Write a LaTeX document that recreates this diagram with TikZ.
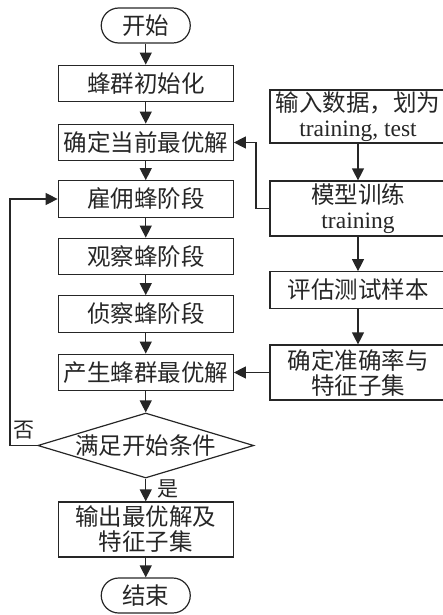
\documentclass[tikz,border=0pt]{standalone}
\usepackage{fontspec}
\setmainfont{Liberation Serif}
\newfontfamily\cjk{Noto Sans CJK SC}
\usetikzlibrary{arrows.meta,shapes.geometric}

\begin{document}
\begin{tikzpicture}[x=1pt,y=-1pt,
  every node/.style={font=\cjk\fontsize{23.5}{25}\selectfont, text=black!85},
  box/.style={draw=black!85, line width=1.2pt, inner sep=0pt,
    minimum width=175pt, minimum height=36.5pt, align=center},
  rbox/.style={box, minimum width=176pt},
  term/.style={draw=black!85, line width=1.2pt, inner sep=0pt,
    minimum width=89pt, minimum height=35pt, rounded corners=17.5pt},
  decision/.style={draw=black!85, line width=1.2pt, shape=diamond, aspect=3.3,
    inner sep=0pt, minimum width=216pt, minimum height=65pt},
  lab/.style={font=\cjk\fontsize{21}{23}\selectfont, inner sep=0pt},
  arr/.style={draw=black!85, line width=1.2pt, -{Triangle[length=12pt,width=12pt]}}]

\useasboundingbox (0,0) rectangle (443,615);
\clip (0,0) rectangle (443,615);

% main column
\node[term] (start) at (145.75,25.5) {开始};
\node[box] (b1) at (145.75,83.5) {蜂群初始化};
\node[box] (b2) at (145.75,142.5) {确定当前最优解};
\node[box] (b3) at (145.75,199) {雇佣蜂阶段};
\node[box] (b4) at (145.75,256.5) {观察蜂阶段};
\node[box] (b5) at (145.75,314) {侦察蜂阶段};
\node[box] (b6) at (145.75,372.5) {产生蜂群最优解};
\node[decision] (dia) at (145.75,445.5) {满足开始条件};
\node[box, minimum height=55pt] (out) at (145.75,529.5) {输出最优解及\\特征子集};
\node[term] (stop) at (145.75,595.5) {结束};

% classifier column
\node[rbox, minimum height=53pt] (r1) at (358,116.5) {输入数据，划为\\{\rmfamily training, test}};
\node[rbox, minimum height=55pt] (r2) at (358,208.5) {模型训练\\{\rmfamily training}};
\node[rbox] (r3) at (358,290) {评估测试样本};
\node[rbox, minimum height=55pt] (r4) at (358,372.5) {确定准确率与\\特征子集};

% routing columns for the feedback lines
\coordinate (fbx) at (10,0);
\coordinate (rbx) at (256,0);

% main flow
\draw[arr] (start) -- (b1);
\draw[arr] (b1) -- (b2);
\draw[arr] (b2) -- (b3);
\draw[arr] (b3) -- (b4);
\draw[arr] (b4) -- (b5);
\draw[arr] (b5) -- (b6);
\draw[arr] (b6) -- (dia.north);
\draw[arr] (dia.south) -- (out);
\draw[arr] (out) -- (stop);

% loop back when the condition fails
\draw[arr] (dia.west) -- (dia.west -| fbx) |- (b3.west);
\node[lab] (no) at (24,430) {否};
\node[lab] (yes) at (168,489) {是};

% classifier flow
\draw[arr] (r1) -- (r2);
\draw[arr] (r2) -- (r3);
\draw[arr] (r3) -- (r4);
\draw[arr] (r2.west) -- (r2.west -| rbx) |- (b2.east);
\draw[arr] (r4.west) -- (b6.east);
\end{tikzpicture}
\end{document}
